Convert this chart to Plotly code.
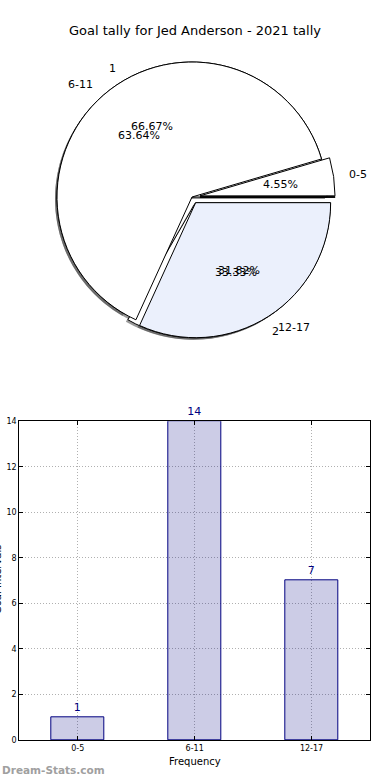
import math
import plotly.graph_objects as go

W, H = 390, 780

chart_title = "Goal tally for Jed Anderson - 2021 tally"
categories = ["0-5", "6-11", "12-17"]
counts = [1, 14, 7]
pie_colors = ["white", "white", "#ebf0fc"]
pie_explode = [0.06, 0.0, 0.05]

overlay_labels = ["1", "2"]
overlay_values = [2, 1]
overlay_colors = ["white", "white"]
overlay_explode = [0.0, 0.05]

y_ticks = [0, 2, 4, 6, 8, 10, 12, 14]
x_title = "Frequency"
y_title = "Goal Intervals"
watermark = "Dream-Stats.com"

FONT = "DejaVu Sans"

# pie geometry (pixels)
CX, CY, R = 192, 197, 135
MAXPULL = 0.06


def px(x):
    return x / W


def py(y):
    return 1 - y / H


def pie_domain(dx=0, dy=0):
    half = R * (1 + MAXPULL)
    return dict(x=[px(CX + dx - half), px(CX + dx + half)],
                y=[py(CY + dy + half), py(CY + dy - half)])


def start_rotation(values):
    # first wedge starts at 3 o'clock and runs counterclockwise
    return 90 - 360.0 * values[0] / sum(values)


def pad_pull(expl):
    # keep every pie the same radius: plotly scales by the largest pull
    return list(expl) + [0.0] if max(expl) < MAXPULL else list(expl)


fig = go.Figure()

shadow = "rgba(70,70,70,0.55)"
pies = [(overlay_labels, overlay_values, overlay_explode, overlay_colors),
        (categories, counts, pie_explode, pie_colors)]

for labels, values, expl, cols in pies:
    fig.add_trace(go.Pie(labels=labels + ["_pad"], values=values + [0],
                         pull=list(expl) + [MAXPULL], sort=False,
                         direction="counterclockwise", rotation=start_rotation(values),
                         marker=dict(colors=[shadow] * (len(values) + 1), line=dict(width=0)),
                         textinfo="none", hoverinfo="skip", showlegend=False,
                         domain=pie_domain(-2, 2)))

for labels, values, expl, cols in pies:
    fig.add_trace(go.Pie(labels=labels + ["_pad"], values=values + [0],
                         pull=list(expl) + [MAXPULL], sort=False,
                         direction="counterclockwise", rotation=start_rotation(values),
                         marker=dict(colors=cols + ["white"], line=dict(color="black", width=1)),
                         textinfo="none", showlegend=False, domain=pie_domain()))

annotations = []


def pie_annots(labels, values, expl):
    total = float(sum(values))
    start = 0.0
    for lab, v, e in zip(labels, values, expl):
        end = start + 360.0 * v / total
        mid = math.radians((start + end) / 2)
        c, s = math.cos(mid), math.sin(mid)
        ox, oy = e * R * c, e * R * s
        lx = CX + ox + 1.1 * R * c
        ly = CY - (oy + 1.1 * R * s)
        annotations.append(dict(x=px(lx), y=py(ly), xref="paper", yref="paper",
                                text=lab, showarrow=False,
                                xanchor="left" if c > 0 else "right", yanchor="middle",
                                font=dict(family=FONT, size=11, color="black")))
        tx = CX + ox + 0.6 * R * c
        ty = CY - (oy + 0.6 * R * s)
        annotations.append(dict(x=px(tx), y=py(ty), xref="paper", yref="paper",
                                text="%.2f%%" % (100.0 * v / total), showarrow=False,
                                xanchor="center", yanchor="middle",
                                font=dict(family=FONT, size=11, color="black")))
        start = end


pie_annots(categories, counts, pie_explode)
pie_annots(overlay_labels, overlay_values, overlay_explode)

# bar chart
fig.add_trace(go.Bar(x=categories, y=counts, width=0.45,
                     marker=dict(color="rgba(0,0,128,0.2)", line=dict(color="navy", width=1)),
                     text=[str(c) for c in counts], textposition="outside",
                     textfont=dict(family=FONT, size=11, color="navy"),
                     cliponaxis=False, showlegend=False, xaxis="x", yaxis="y"))

left, right, top, bottom = 19.3, 370, 421.3, 740
axis_common = dict(showline=True, linecolor="black", linewidth=1, mirror="ticks",
                   ticks="inside", ticklen=4, tickcolor="black",
                   showgrid=True, gridcolor="#b0b0b0", gridwidth=1, griddash="1px,2px",
                   zeroline=False, tickfont=dict(family=FONT, size=8, color="black"))

fig.update_layout(
    width=W, height=H, margin=dict(l=0, r=0, t=0, b=0, autoexpand=False),
    paper_bgcolor="white", plot_bgcolor="white",
    title=dict(text=chart_title, x=0.5, xanchor="center", y=py(30), yanchor="middle",
               font=dict(family=FONT, size=13, color="black")),
    xaxis=dict(domain=[px(left), px(right)], range=[-0.5, 2.5], type="category",
               anchor="y", **axis_common),
    yaxis=dict(domain=[py(bottom), py(top)], range=[0, 14], tickvals=y_ticks,
               anchor="x", **axis_common),
    bargap=0,
)

annotations.append(dict(x=px((left + right) / 2), y=py(761), xref="paper", yref="paper",
                        text=x_title, showarrow=False, xanchor="center", yanchor="middle",
                        font=dict(family=FONT, size=10, color="black")))
annotations.append(dict(x=px(-3), y=py(580), xref="paper", yref="paper",
                        text=y_title, textangle=-90, showarrow=False,
                        xanchor="center", yanchor="middle",
                        font=dict(family=FONT, size=10, color="black")))
annotations.append(dict(x=0, y=py(770), xref="paper", yref="paper",
                        text="<b>" + watermark + "</b>", showarrow=False,
                        xanchor="left", yanchor="middle",
                        font=dict(family=FONT, size=10.5, color="#a0a0a0")))

fig.update_layout(annotations=annotations)

fig.write_html("out.html", config={"displayModeBar": False},
               post_script="document.body.style.margin='0';document.body.style.overflow='hidden';")
